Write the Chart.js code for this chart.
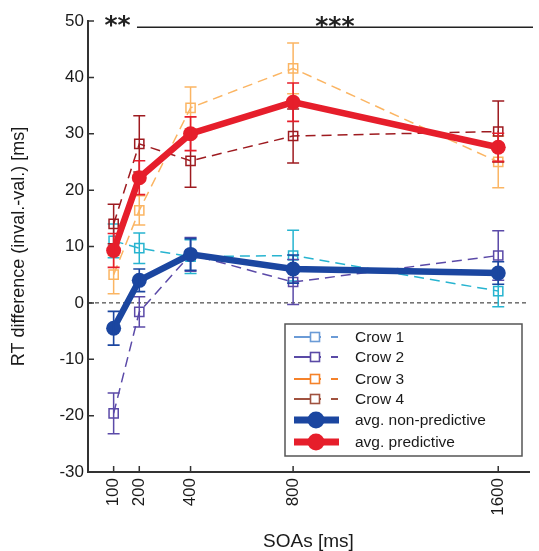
<!DOCTYPE html>
<html>
<head>
<meta charset="utf-8">
<script src="https://cdn.jsdelivr.net/npm/chart.js@4/dist/chart.umd.min.js"></script>
<style>
  html, body { margin: 0; padding: 0; background: #ffffff; }
  #wrap { width: 539px; height: 551px; }
</style>
</head>
<body>
<div id="wrap"><canvas id="c" width="539" height="551"></canvas></div>
<script>
// ---------- data ----------
const soas = [100, 200, 400, 800, 1600];
const yTicks = [-30, -20, -10, 0, 10, 20, 30, 40, 50];

const seriesLabels = ["Crow 1", "Crow 2", "Crow 3", "Crow 4", "avg. non-predictive", "avg. predictive"];

const crow1 = [11.0, 9.7, 8.2, 8.4, 2.1];
const crow1Err = [3.0, 2.7, 3.0, 4.5, 2.8];
const crow2 = [-19.6, -1.6, 8.6, 3.7, 8.4];
const crow2Err = [3.6, 2.7, 3.0, 4.0, 4.4];
const crow3 = [5.0, 16.4, 34.6, 41.6, 25.0];
const crow3Err = [3.4, 2.6, 3.7, 4.5, 4.6];
const crow4 = [14.0, 28.2, 25.2, 29.6, 30.4];
const crow4Err = [3.5, 5.0, 4.7, 4.8, 5.4];
const nonPred = [-4.5, 4.0, 8.6, 6.0, 5.3];
const nonPredErr = [3.0, 2.0, 2.8, 2.5, 2.0];
const pred = [9.3, 22.2, 30.0, 35.6, 27.6];
const predErr = [3.0, 3.0, 3.0, 3.4, 2.5];

// significance annotations
const sigLabels = ["**", "***"];

// ---------- styles ----------
const FONT = "'Liberation Sans', Arial, Helvetica, sans-serif";
const INK = "#1a1a1a";
const lineColors = ["#27b4d0", "#5b4aa8", "#fbb563", "#9e1b20", "#1b46a0", "#e61e2b"];
const legendColors = ["#6b9bd6", "#5a4aa6", "#f5822a", "#a0523f", "#1b46a0", "#e61e2b"];

function pts(vals) { return vals.map((v, i) => ({ x: soas[i], y: v })); }

function crowDs(i, vals, err) {
  return {
    label: seriesLabels[i], data: pts(vals), err: err,
    borderColor: lineColors[i], backgroundColor: 'rgba(0,0,0,0)',
    borderWidth: 1.5, borderDash: [10, 6],
    pointStyle: 'rect', pointRadius: 6.5, pointBorderWidth: 1.5,
    pointBorderColor: lineColors[i], pointBackgroundColor: 'rgba(0,0,0,0)',
    errWidth: 1.5, cap: 6, tension: 0, order: 6 - i, legendColor: legendColors[i], kind: 'crow'
  };
}
function avgDs(i, vals, err, order) {
  return {
    label: seriesLabels[i], data: pts(vals), err: err,
    borderColor: lineColors[i], backgroundColor: lineColors[i],
    borderWidth: 6.5, pointStyle: 'circle', pointRadius: 7.5, pointBorderWidth: 0,
    pointBackgroundColor: lineColors[i],
    errWidth: 1.6, cap: 6, tension: 0, order: order, legendColor: legendColors[i], kind: 'avg'
  };
}

const datasets = [
  crowDs(0, crow1, crow1Err),
  crowDs(1, crow2, crow2Err),
  crowDs(2, crow3, crow3Err),
  crowDs(3, crow4, crow4Err),
  avgDs(4, nonPred, nonPredErr, 1),
  avgDs(5, pred, predErr, 0)
];

// ---------- plugins ----------
const errPlugin = {
  id: 'errbars',
  afterDatasetDraw(chart, args) {
    const ds = chart.data.datasets[args.index];
    if (!ds.err) return;
    const xs = chart.scales.x, ys = chart.scales.y, ctx = chart.ctx;
    ctx.save();
    ctx.strokeStyle = ds.borderColor;
    ctx.lineWidth = ds.errWidth;
    ctx.setLineDash([]);
    ds.data.forEach((p, i) => {
      const x = xs.getPixelForValue(p.x);
      const y1 = ys.getPixelForValue(p.y + ds.err[i]);
      const y2 = ys.getPixelForValue(p.y - ds.err[i]);
      ctx.beginPath();
      ctx.moveTo(x, y1); ctx.lineTo(x, y2);
      ctx.moveTo(x - ds.cap, y1); ctx.lineTo(x + ds.cap, y1);
      ctx.moveTo(x - ds.cap, y2); ctx.lineTo(x + ds.cap, y2);
      ctx.stroke();
    });
    ctx.restore();
  }
};

const decoPlugin = {
  id: 'deco',
  beforeDatasetsDraw(chart) {
    const {ctx, chartArea: a} = chart;
    const ys = chart.scales.y;
    const y0 = ys.getPixelForValue(0);
    ctx.save();
    ctx.strokeStyle = "#222";
    ctx.lineWidth = 1;
    ctx.setLineDash([4, 3]);
    ctx.beginPath();
    ctx.moveTo(a.left, y0); ctx.lineTo(a.right, y0);
    ctx.stroke();
    ctx.restore();
  },
  afterDraw(chart) {
    const {ctx, chartArea: a} = chart;
    const xs = chart.scales.x, ys = chart.scales.y;
    ctx.save();
    // inward tick marks
    ctx.strokeStyle = "#333";
    ctx.lineWidth = 1.5;
    ctx.setLineDash([]);
    ctx.beginPath();
    yTicks.forEach(v => {
      const y = ys.getPixelForValue(v);
      ctx.moveTo(a.left, y); ctx.lineTo(a.left + 6, y);
    });
    soas.forEach(v => {
      const x = xs.getPixelForValue(v);
      ctx.moveTo(x, a.bottom); ctx.lineTo(x, a.bottom - 6);
    });
    ctx.stroke();

    // significance line and stars
    const ySig = ys.getPixelForValue(48.9);
    ctx.strokeStyle = "#222";
    ctx.lineWidth = 1.5;
    ctx.beginPath();
    ctx.moveTo(xs.getPixelForValue(191), ySig);
    ctx.lineTo(a.right + 4, ySig);
    ctx.stroke();
    ctx.fillStyle = "#222";
    ctx.font = "bold 25px 'DejaVu Sans', sans-serif";
    ctx.textAlign = 'center';
    ctx.textBaseline = 'alphabetic';
    ctx.fillText(sigLabels[0], xs.getPixelForValue(115), 33);
    ctx.fillText(sigLabels[1], xs.getPixelForValue(963), 34);

    // legend
    const L = {x: 285, y: 324, w: 237, h: 132};
    ctx.fillStyle = "#fff";
    ctx.fillRect(L.x, L.y, L.w, L.h);
    ctx.strokeStyle = "#555";
    ctx.lineWidth = 1.5;
    ctx.strokeRect(L.x, L.y, L.w, L.h);
    const rows = [337, 357, 379, 399, 420, 442];
    ctx.font = "15.5px " + FONT;
    ctx.textAlign = 'left';
    ctx.textBaseline = 'middle';
    chart.data.datasets.forEach((ds, i) => {
      const ry = rows[i];
      const c = ds.legendColor;
      ctx.strokeStyle = c;
      ctx.fillStyle = c;
      if (ds.kind === 'crow') {
        ctx.lineWidth = 1.8;
        ctx.beginPath();
        ctx.moveTo(294, ry); ctx.lineTo(310, ry);
        ctx.moveTo(319, ry); ctx.lineTo(321, ry);
        ctx.moveTo(331, ry); ctx.lineTo(338, ry);
        ctx.stroke();
        ctx.lineWidth = 1.6;
        ctx.strokeRect(310.5, ry - 4.5, 9, 9);
      } else {
        ctx.lineWidth = 7;
        ctx.beginPath();
        ctx.moveTo(294, ry); ctx.lineTo(339, ry);
        ctx.stroke();
        ctx.beginPath();
        ctx.arc(316, ry, 8.5, 0, Math.PI * 2);
        ctx.fill();
      }
      ctx.fillStyle = INK;
      ctx.fillText(ds.label, 355, ry + 1);
    });
    ctx.restore();
  }
};

// ---------- chart ----------
new Chart(document.getElementById('c'), {
  type: 'line',
  data: { datasets: datasets },
  options: {
    responsive: false,
    animation: false,
    devicePixelRatio: 1,
    layout: { padding: { top: 21, right: 10, bottom: 0, left: 0 } },
    plugins: { legend: { display: false }, tooltip: { enabled: false } },
    scales: {
      x: {
        type: 'linear', min: 0, max: 1720,
        afterBuildTicks: s => { s.ticks = soas.map(v => ({ value: v })); },
        afterFit: s => { s.height = 79; },
        grid: { display: false, drawTicks: false },
        border: { display: true, color: '#333', width: 2 },
        ticks: {
          color: INK, font: { family: FONT, size: 17 },
          minRotation: 90, maxRotation: 90, padding: 6, autoSkip: false,
          callback: v => String(v)
        },
        title: {
          display: true, text: 'SOAs [ms]', color: INK,
          font: { family: FONT, size: 19, lineHeight: 1 }, padding: { top: 0, bottom: 0 }
        }
      },
      y: {
        type: 'linear', min: -30, max: 50,
        afterBuildTicks: s => { s.ticks = yTicks.map(v => ({ value: v })); },
        afterFit: s => { s.width = 88; },
        grid: { display: false, drawTicks: false },
        border: { display: true, color: '#333', width: 2 },
        ticks: { color: INK, font: { family: FONT, size: 17 }, padding: 4, callback: v => String(v) },
        title: {
          display: true, text: 'RT difference (inval.-val.) [ms]', color: INK,
          font: { family: FONT, size: 18, lineHeight: 1.2 }, padding: { top: 8, bottom: 0 }
        }
      }
    }
  },
  plugins: [errPlugin, decoPlugin]
});
</script>
</body>
</html>
